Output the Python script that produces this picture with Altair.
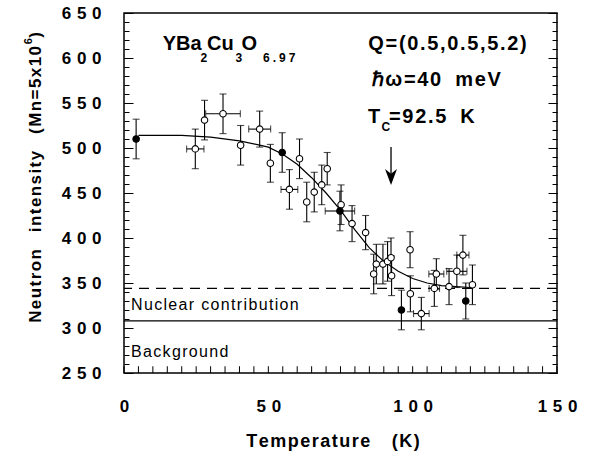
import altair as alt
import pandas as pd

# ---------------- data ----------------
temps = [4.2, 24.7, 27.9, 34.3, 40.4, 47.0, 50.7, 54.8, 57.3, 60.8, 63.3, 65.9,
         68.5, 70.4, 75.2, 74.8, 79.0, 83.7, 86.5, 87.4, 89.7, 91.3, 92.5, 92.7,
         99.1, 99.2, 96.1, 103.0, 108.2, 107.5, 112.6, 115.3, 117.4, 120.7, 118.4]
intensity = [510, 499, 531, 538, 503, 521, 483, 495, 454, 488, 440, 451,
             459, 477, 437, 430, 416, 406, 360, 371, 371, 374, 378, 358,
             387, 338, 320, 316, 360, 344, 346, 363, 381, 348, 330]
yerr = [22, 22, 22, 22, 22, 20, 21, 22, 22, 22, 22, 22,
        22, 18, 22, 22, 20, 19, 22, 22, 22, 22, 22, 22,
        20, 20, 22, 18, 17, 20, 20, 18, 22, 22, 20]
xerr = [0, 3.0, 0, 6.0, 0, 3.8, 0, 0, 2.9, 0, 0, 0,
        0, 0, 0, 5.1, 0, 0, 0, 0, 0, 0, 0, 0,
        0, 0, 0, 2.7, 2.6, 1.8, 0, 3.5, 2.1, 0, 0]
filled = [True, False, False, False, False, False, False, True, False, False, False, False,
          False, False, False, True, False, False, False, False, False, False, False, False,
          False, False, True, False, False, False, False, False, False, False, True]

curve_t = [5, 10, 20, 30, 40, 50, 55, 60, 65, 70, 75, 80, 85, 90, 95, 100, 105, 110, 115, 120]
curve_i = [514, 514, 514, 512, 508, 501, 493, 482, 467, 450, 431, 409, 389, 374, 363, 355, 350, 347, 346, 345]

background_level = 308
nuclear_level = 344
tc_value = 92.5

x_ticks_major = [0, 50, 100, 150]
y_ticks_major = [250, 300, 350, 400, 450, 500, 550, 600, 650]
x_ticks_minor = [float(v) for v in range(0, 151, 5)]
y_ticks_minor = list(range(250, 651, 10))

# ---------------- styling helpers ----------------
FONT = "Liberation Sans"
HAIR = "\u200a"
GAP = "\u2004"
WIDE = "\u2002\u2009"


def spaced(s, gap=HAIR):
    return gap.join(s)


pts = pd.DataFrame({
    "T": temps, "I": intensity, "dI": yerr, "dT": xerr,
    "kind": ["filled" if f else "open" for f in filled],
})
curve = pd.DataFrame({"T": curve_t, "I": curve_i})

xs = alt.Scale(domain=[0, 150], nice=False, zero=False)
ys = alt.Scale(domain=[250, 650], nice=False, zero=False)

label_expr = "join(split(datum.label, ''), '" + GAP + "')"

main_x_axis = alt.Axis(values=x_ticks_major, orient="bottom", ticks=False, domain=False,
                       grid=False, labelPadding=25, labelExpr=label_expr, labelFont=FONT,
                       labelFontSize=17, labelFontWeight="bold", labelColor="black",
                       labelFlush=False, title=None)
main_y_axis = alt.Axis(values=y_ticks_major, orient="left", ticks=False, domain=False,
                       grid=False, labelPadding=23, labelExpr=label_expr, labelFont=FONT,
                       labelFontSize=17, labelFontWeight="bold", labelColor="black",
                       labelFlush=False, title=None)


def tick_axis(values, orient, size):
    return alt.Axis(values=values, orient=orient, ticks=True, tickSize=size,
                    offset=-size, labels=False, domain=False, grid=False,
                    tickColor="black", tickWidth=1, title=None)


def ghost(x_axis, y_axis):
    return alt.Chart(curve).mark_point(opacity=0).encode(
        x=alt.X("T:Q", scale=xs, axis=x_axis),
        y=alt.Y("I:Q", scale=ys, axis=y_axis),
    )


tick_layers = [
    ghost(None, tick_axis(y_ticks_minor, "left", 5)),
    ghost(None, tick_axis(y_ticks_major, "left", 9)),
    ghost(None, tick_axis(y_ticks_minor, "right", 5)),
    ghost(None, tick_axis(y_ticks_major, "right", 9)),
]

# bottom ticks (inward), placed through the x and y scales
bottom_ticks = alt.Chart(pd.DataFrame({"tx": x_ticks_minor})).mark_rule(
    color="black", strokeWidth=1, opacity=1).encode(
    x=alt.X("tx:Q", scale=xs, axis=None),
    y=alt.Y(datum=250, scale=ys, axis=None),
    y2=alt.Y2(datum=257.5))

bg_rule = alt.Chart(pd.DataFrame({"I": [background_level]})).mark_rule(
    color="black", strokeWidth=1.2).encode(y=alt.Y("I:Q", scale=ys, axis=None))
nuc_rule = alt.Chart(pd.DataFrame({"I": [nuclear_level]})).mark_rule(
    color="black", strokeWidth=1.2, strokeDash=[10, 7]).encode(
    y=alt.Y("I:Q", scale=ys, axis=None))

line = alt.Chart(curve).mark_line(color="black", strokeWidth=1.2).encode(
    x=alt.X("T:Q", scale=xs, axis=None), y=alt.Y("I:Q", scale=ys, axis=None))

base = alt.Chart(pts)
ybars = base.transform_calculate(lo="datum.I - datum.dI", hi="datum.I + datum.dI").mark_rule(
    color="black", strokeWidth=1.1).encode(
    x=alt.X("T:Q", scale=xs, axis=None),
    y=alt.Y("lo:Q", scale=ys, axis=None), y2="hi:Q")
ycaps = base.transform_calculate(lo="datum.I - datum.dI", hi="datum.I + datum.dI").transform_fold(
    ["lo", "hi"], as_=["end", "v"]).mark_tick(
    orient="horizontal", size=7, thickness=1.1, color="black").encode(
    x=alt.X("T:Q", scale=xs, axis=None), y=alt.Y("v:Q", scale=ys, axis=None))
xbars = base.transform_filter("datum.dT > 0").transform_calculate(
    xlo="datum.T - datum.dT", xhi="datum.T + datum.dT").mark_rule(
    color="black", strokeWidth=1.1).encode(
    x=alt.X("xlo:Q", scale=xs, axis=None), x2="xhi:Q",
    y=alt.Y("I:Q", scale=ys, axis=None))
xcaps = base.transform_filter("datum.dT > 0").transform_calculate(
    xlo="datum.T - datum.dT", xhi="datum.T + datum.dT").transform_fold(
    ["xlo", "xhi"], as_=["end", "v"]).mark_tick(
    orient="vertical", size=7, thickness=1.1, color="black").encode(
    x=alt.X("v:Q", scale=xs, axis=None), y=alt.Y("I:Q", scale=ys, axis=None))

points = base.mark_point(shape="circle", size=42, filled=True, opacity=1,
                         stroke="black", strokeWidth=1.1).encode(
    x=alt.X("T:Q", scale=xs, axis=main_x_axis),
    y=alt.Y("I:Q", scale=ys, axis=main_y_axis),
    fill=alt.Fill("kind:N", scale=alt.Scale(domain=["filled", "open"], range=["black", "white"]),
                  legend=None),
)


def label(text, x, y, size, weight="bold", align="left", baseline="alphabetic", angle=0):
    return alt.Chart(pd.DataFrame({"t": [text]})).mark_text(
        align=align, baseline=baseline, fontSize=size, fontWeight=weight,
        font=FONT, angle=angle, color="black").encode(
        text="t:N", x=alt.value(x), y=alt.value(y))


texts = [
    label("YBa", 38.7, 37, 20),
    label("2", 76.5, 49, 12),
    label("Cu", 83, 37, 20),
    label("3", 111.5, 49, 12),
    label("O", 117.5, 37, 20),
    label(spaced("6.97", "\u2005"), 139, 49, 12),
    label(spaced("Q=(0.5,0.5,5.2)"), 244.3, 37, 20),
    label(spaced("\u210fω=40") + WIDE + spaced("meV"), 247.7, 73, 20),
    label("T", 244, 110, 20),
    label("C", 257.5, 118, 12),
    label(spaced("=92.5") + WIDE + "K", 265, 110, 20),
    label(spaced("Nuclear contribution"), 7, 297, 16, weight="normal"),
    label(spaced("Background"), 7, 344, 16, weight="normal"),
    label(spaced("Temperature") + "\u2003\u2009" + spaced("(K)"), 209, 429, 18,
          align="center", baseline="middle"),
    label(spaced("Neutron") + "\u2003" + spaced("intensity") + "\u2003" + spaced("(Mn=5x10"),
          -88, 33, 17, align="right", baseline="middle", angle=270),
    label("6", -95, 25, 11, align="right", baseline="middle", angle=270),
    label(")", -88, 19, 17, align="right", baseline="middle", angle=270),
]

tc_df = pd.DataFrame({"T": [tc_value]})
arrow_line = alt.Chart(tc_df).mark_rule(color="black", strokeWidth=1.3).encode(
    x=alt.X("T:Q", scale=xs, axis=None), y=alt.value(134), y2=alt.value(168))
arrow_head = alt.Chart(tc_df).mark_point(
    shape="M-0.75,-1L0,1L0.75,-1L0,-0.4Z", size=256, filled=True, color="black",
    opacity=1).encode(x=alt.X("T:Q", scale=xs, axis=None), y=alt.value(164))

chart = alt.layer(
    *tick_layers, bg_rule, nuc_rule, line, ybars, ycaps, xbars, xcaps, points,
    arrow_line, arrow_head, bottom_ticks, *texts,
).resolve_axis(x="independent", y="independent").properties(
    width=433, height=360,
    autosize=alt.AutoSizeParams(type="none"),
    padding={"left": 124, "top": 13, "right": 34, "bottom": 93},
    background="white",
).configure_view(stroke="black", strokeWidth=1.5)

chart.save("out.html", embed_options={"renderer": "svg", "actions": False})
